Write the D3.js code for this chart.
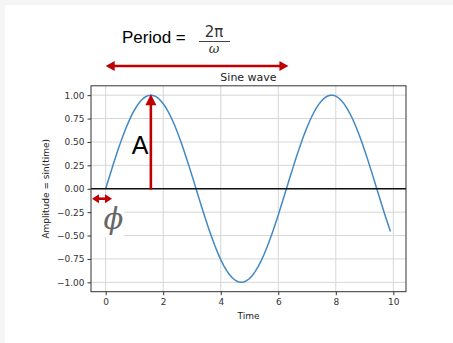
<!DOCTYPE html>
<html>
<head>
<meta charset="utf-8">
<script src="https://cdn.jsdelivr.net/npm/d3@7"></script>
<style>
html,body{margin:0;padding:0;background:#f5f5f5;}
svg{display:block;}
</style>
</head>
<body>
<svg id="chart" width="453" height="343"></svg>
<script>
// ---- data ----
const timeValues = d3.range(0, 100).map(i => +(i * 0.1).toFixed(1)); // 0.0 .. 9.9 sampled time
const amplitudeValues = timeValues.map(t => Math.sin(t));            // sin(time)
const xTickValues = [0, 2, 4, 6, 8, 10];
const yTickValues = [-1.0, -0.75, -0.5, -0.25, 0.0, 0.25, 0.5, 0.75, 1.0];
const titleText = "Sine wave";
const xLabelText = "Time";
const yLabelText = "Amplitude = sin(time)";
const peakTime = Math.PI / 2;

const svg = d3.select("#chart");
svg.append("rect").attr("x", 5).attr("y", 5).attr("width", 448).attr("height", 338).attr("fill", "#ffffff");

const L = 91, R = 406, T = 85.8, B = 291.7;
const x = d3.scaleLinear().domain([-0.51, 10.44]).range([L, R]);
const y = d3.scaleLinear().domain([-1.1, 1.1]).range([B, T]);

// grid
const grid = svg.append("g");
grid.selectAll("line.gx").data(xTickValues).join("line")
  .attr("x1", d => x(d)).attr("x2", d => x(d)).attr("y1", T).attr("y2", B)
  .attr("stroke", "#d6d6d6").attr("stroke-width", 1);
grid.selectAll("line.gy").data(yTickValues).join("line")
  .attr("y1", d => y(d)).attr("y2", d => y(d)).attr("x1", L).attr("x2", R)
  .attr("stroke", "#d6d6d6").attr("stroke-width", 1);

// white box behind phi
svg.append("rect").attr("x", 92).attr("y", 203).attr("width", 32).attr("height", 34).attr("fill", "#fff");

// sine line
svg.append("path").datum(timeValues.map((t, i) => [t, amplitudeValues[i]]))
  .attr("d", d3.line().x(d => x(d[0])).y(d => y(d[1])))
  .attr("fill", "none").attr("stroke", "#4189c5").attr("stroke-width", 1.5);

// zero line
svg.append("line").attr("x1", L).attr("x2", R).attr("y1", y(0)).attr("y2", y(0))
  .attr("stroke", "#111").attr("stroke-width", 1.3);

// frame
svg.append("rect").attr("x", L).attr("y", T).attr("width", R - L).attr("height", B - T)
  .attr("fill", "none").attr("stroke", "#333").attr("stroke-width", 1);

// axes
const fmtY = d => d3.format(".2f")(d).replace("-", "\u2212");
const xAxis = d3.axisBottom(x).tickValues(xTickValues).tickSize(3.5).tickPadding(3).tickFormat(d3.format("d"));
const yAxis = d3.axisLeft(y).tickValues(yTickValues).tickSize(3.5).tickPadding(3).tickFormat(fmtY);
const gx = svg.append("g").attr("transform", `translate(0,${B})`).call(xAxis);
const gy = svg.append("g").attr("transform", `translate(${L},0)`).call(yAxis);
[gx, gy].forEach(g => {
  g.select(".domain").remove();
  g.selectAll(".tick line").attr("stroke", "#333");
  g.selectAll(".tick text").attr("fill", "#333").style("font-family", "DejaVu Sans").style("font-size", "9px");
});

// labels
svg.append("text").attr("x", (L + R) / 2).attr("y", 81).attr("text-anchor", "middle")
  .style("font-family", "DejaVu Sans").style("font-size", "11px").attr("fill", "#222").text(titleText);
svg.append("text").attr("x", (L + R) / 2).attr("y", 319).attr("text-anchor", "middle")
  .style("font-family", "DejaVu Sans").style("font-size", "9px").attr("fill", "#222").text(xLabelText);
svg.append("text").attr("transform", `translate(48.5,${y(0)}) rotate(-90)`).attr("text-anchor", "middle")
  .style("font-family", "DejaVu Sans").style("font-size", "9px").attr("fill", "#222").text(yLabelText);

// arrows
const red = "#c00000";
function head(px, py, ang, len, w) {
  const c = Math.cos(ang), s = Math.sin(ang);
  const bx = px - c * len, by = py - s * len;
  const p = [[px, py], [bx - s * w / 2, by + c * w / 2], [bx + s * w / 2, by - c * w / 2]];
  svg.append("path").attr("d", "M" + p.map(q => q.join(",")).join("L") + "Z").attr("fill", red);
}
function arrow(x1, y1, x2, y2, both, len, w) {
  const ang = Math.atan2(y2 - y1, x2 - x1);
  const c = Math.cos(ang), s = Math.sin(ang);
  svg.append("line")
    .attr("x1", both ? x1 + c * len * 0.8 : x1).attr("y1", both ? y1 + s * len * 0.8 : y1)
    .attr("x2", x2 - c * len * 0.8).attr("y2", y2 - s * len * 0.8)
    .attr("stroke", red).attr("stroke-width", 2.6);
  head(x2, y2, ang, len, w);
  if (both) head(x1, y1, ang + Math.PI, len, w);
}
// Period arrow: spans one period above the plot
arrow(x(0), 66, x(2 * Math.PI) + 2, 66, true, 9, 10);
// Amplitude arrow
arrow(x(peakTime), y(0) + 1, x(peakTime), y(1) - 1, false, 11, 11);
// phase arrow
arrow(92, 198.7, 112, 198.7, true, 7, 9);

// "A"
svg.append("text").attr("x", 140).attr("y", 153.5).attr("text-anchor", "middle")
  .style("font-family", "Liberation Sans").style("font-size", "25px").attr("fill", "#000").text("A");

// phi
svg.append("text").attr("x", 113.5).attr("y", 229).attr("text-anchor", "middle")
  .style("font-family", "DejaVu Serif").style("font-style", "italic").style("font-size", "29px")
  .attr("fill", "#666").text("\u03D5");

// Period formula
svg.append("text").attr("x", 122).attr("y", 42.7)
  .style("font-family", "Liberation Sans").style("font-size", "17px").attr("fill", "#000").text("Period =");
svg.append("text").attr("x", 214).attr("y", 36.5).attr("text-anchor", "middle")
  .style("font-family", "DejaVu Sans").style("font-size", "15px").attr("fill", "#333").text("2\u03C0");
svg.append("line").attr("x1", 199).attr("x2", 230).attr("y1", 41.5).attr("y2", 41.5)
  .attr("stroke", "#444").attr("stroke-width", 1);
svg.append("text").attr("x", 214).attr("y", 53).attr("text-anchor", "middle")
  .style("font-family", "DejaVu Serif").style("font-style", "italic").style("font-size", "13px").attr("fill", "#333").text("\u03C9");
</script>
</body>
</html>
